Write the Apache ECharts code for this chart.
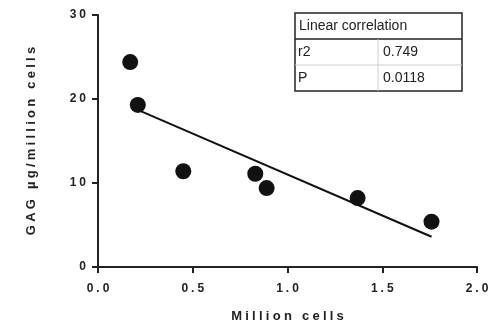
<!DOCTYPE html>
<html>
<head>
<meta charset="utf-8">
<script src="https://cdn.jsdelivr.net/npm/echarts@6/dist/echarts.min.js"></script>
<style>
  html, body { margin: 0; padding: 0; background: #fff; }
  #chart { width: 492px; height: 328px; }
</style>
</head>
<body>
<div id="chart"></div>
<script>
// points
const cellsMillion = [0.17, 0.21, 0.45, 0.83, 0.89, 1.37, 1.76];
const gagPerMillion = [24.4, 19.3, 11.4, 11.1, 9.4, 8.2, 5.4];
// regression line end points
const fitX = [0.21, 1.76];
const fitY = [18.7, 3.6];
// table text
const tableTitle = 'Linear correlation';
const statNames = ['r2', 'P'];
const statValues = ['0.749', '0.0118'];

const spaced = (s) => String(s).split('').join('\u2005');

const chart = echarts.init(document.getElementById('chart'), null, { renderer: 'canvas' });

const fontFam = 'Liberation Sans, Arial, sans-serif';

// table box
const tx = 295, ty = 13, tw = 167, rowH = 26, colX = 378;
const tableGraphics = [
  { type: 'rect', shape: { x: tx, y: ty, width: tw, height: rowH * 3 }, style: { fill: '#fff', stroke: '#222', lineWidth: 1.5 } },
  { type: 'line', shape: { x1: tx, y1: ty + rowH, x2: tx + tw, y2: ty + rowH }, style: { stroke: '#222', lineWidth: 1.5 } },
  { type: 'line', shape: { x1: tx, y1: ty + rowH * 2, x2: tx + tw, y2: ty + rowH * 2 }, style: { stroke: '#ccc', lineWidth: 1 } },
  { type: 'line', shape: { x1: colX, y1: ty + rowH, x2: colX, y2: ty + rowH * 3 }, style: { stroke: '#ccc', lineWidth: 1 } },
  { type: 'text', x: tx + 4, y: ty + rowH / 2, style: { text: tableTitle, font: '14px ' + fontFam, fill: '#222', verticalAlign: 'middle' } }
];
statNames.forEach((n, i) => {
  const cy = ty + rowH * (i + 1.5);
  tableGraphics.push({ type: 'text', x: tx + 3, y: cy, style: { text: n, font: '14px ' + fontFam, fill: '#222', verticalAlign: 'middle' } });
  tableGraphics.push({ type: 'text', x: colX + 5, y: cy, style: { text: statValues[i], font: '14px ' + fontFam, fill: '#222', verticalAlign: 'middle' } });
});

chart.setOption({
  animation: false,
  grid: { left: 98, right: 15, top: 15, bottom: 61 },
  xAxis: {
    type: 'value',
    min: 0, max: 2, interval: 0.5,
    name: spaced('Million cells'),
    nameLocation: 'middle',
    nameGap: 43,
    nameTextStyle: { fontFamily: fontFam, fontWeight: 'bold', fontSize: 13, color: '#222' },
    axisLine: { lineStyle: { color: '#222', width: 2 } },
    axisTick: { length: 6, lineStyle: { color: '#222', width: 2 } },
    axisLabel: { formatter: (v) => spaced(v.toFixed(1)), margin: 16, fontFamily: fontFam, fontWeight: 'bold', fontSize: 12, color: '#222' },
    splitLine: { show: false }
  },
  yAxis: {
    type: 'value',
    min: 0, max: 30, interval: 10,
    name: spaced('GAG µg/million cells'),
    nameLocation: 'middle',
    nameGap: 60,
    nameTextStyle: { fontFamily: fontFam, fontWeight: 'bold', fontSize: 13, color: '#222' },
    axisLine: { show: true, lineStyle: { color: '#222', width: 2 } },
    axisTick: { show: true, length: 6, lineStyle: { color: '#222', width: 2 } },
    axisLabel: { formatter: (v) => spaced(v), margin: 12, fontFamily: fontFam, fontWeight: 'bold', fontSize: 12, color: '#222' },
    splitLine: { show: false }
  },
  series: [
    {
      type: 'line',
      data: fitX.map((x, i) => [x, fitY[i]]),
      showSymbol: false,
      lineStyle: { color: '#111', width: 2 },
      z: 2
    },
    {
      type: 'scatter',
      data: cellsMillion.map((x, i) => [x, gagPerMillion[i]]),
      symbolSize: 16,
      itemStyle: { color: '#111', opacity: 1 },
      z: 3
    }
  ],
  graphic: tableGraphics
});
</script>
</body>
</html>
